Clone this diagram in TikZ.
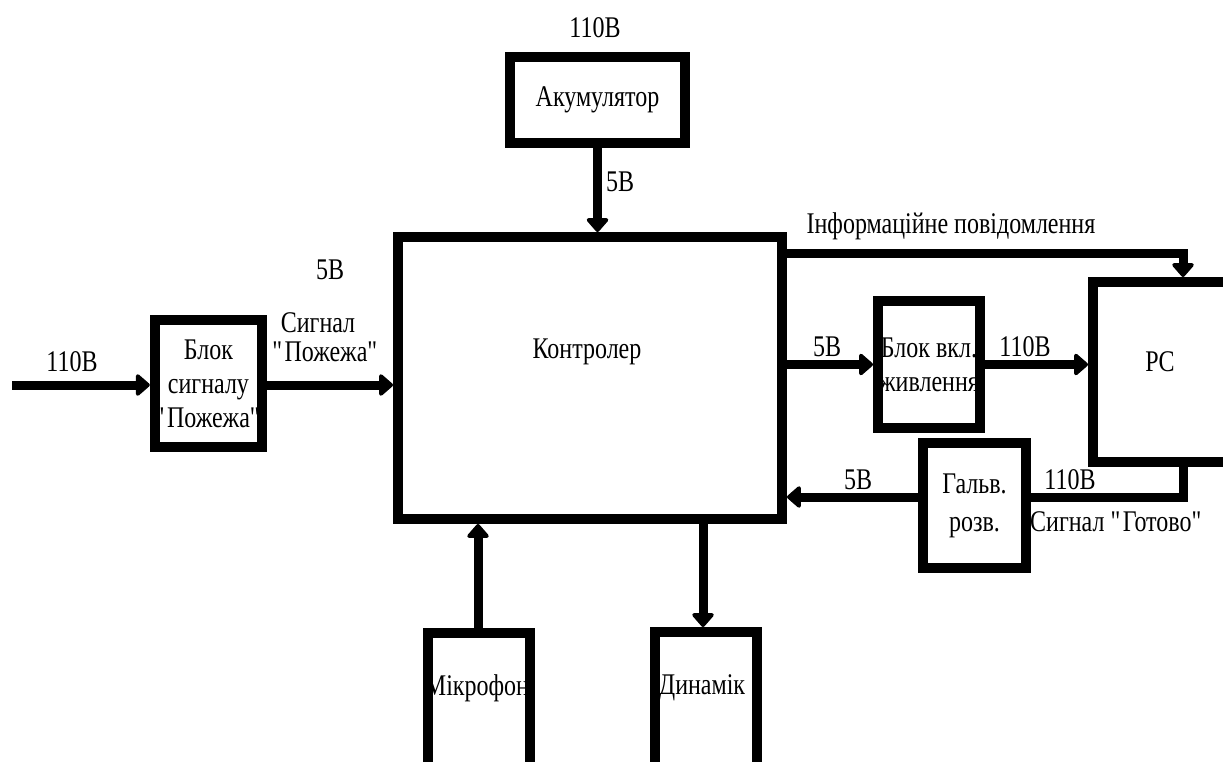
\documentclass[tikz,border=0pt]{standalone}
\usepackage{fontspec}
\setmainfont{Liberation Serif}[FakeStretch=0.8]
\usetikzlibrary{arrows.meta}
\newcommand{\qq}{\textquotedbl}
\tikzset{
  blk/.style={draw, line width=10pt, rectangle, inner sep=0pt, align=center},
  arr/.style={line width=9pt, -{Triangle[length=15pt,width=25pt,round]}},
  ln/.style={line width=9pt},
  lbl/.style={inner sep=0pt, align=center},
}
\begin{document}
\begin{tikzpicture}[x=1pt,y=-1pt,font=\fontsize{30}{34}\selectfont]
\useasboundingbox (0,0) rectangle (1223,762);
\clip (0,0) rectangle (1223,762);
% boxes
\node[blk, minimum width=384pt, minimum height=282pt] (ctrl) at (590,378) {};
\node[lbl] (ctrlt) at (587,352) {Контролер};
\node[blk, minimum width=175pt, minimum height=86pt] (akk) at (597.5,100) {Акумулятор};
\node[blk, minimum width=103pt, minimum height=127pt] (bs) at (208.5,383.5) {Блок\\сигналу\\\qq Пожежа\qq};
\node[blk, minimum width=102pt, minimum height=127pt] (bv) at (929,364.5) {Блок вкл.\\живлення};
\node[blk, minimum width=147pt, minimum height=180pt] (pc) at (1166.5,372) {};
\node[lbl] (pct) at (1160,362) {PC};
\node[blk, minimum width=103pt, minimum height=125pt] (galv) at (974.5,505.5) {Гальв.\\[4pt]розв.};
\node[blk, minimum width=102pt, minimum height=167pt] (mic) at (479,716.5) {};
\node[lbl] (mict) at (477,688) {Мікрофон};
\node[blk, minimum width=102pt, minimum height=168pt] (dyn) at (706,716) {};
\node[lbl] (dynt) at (702,688) {Динамік};
% coordinates
\coordinate (inL) at (12,385);
\coordinate (infoR) at (1183,253);
\coordinate (gotR) at (1183,497);
% connectors
\draw[arr] (inL) -- (inL -| bs.west);
\draw[arr] (bs.east |- inL) -- (inL -| ctrl.west);
\draw[arr] (akk.south) -- (akk.south |- ctrl.north);
\draw[arr] (ctrl.east |- infoR) -- (infoR) -- (infoR |- pc.north);
\draw[arr] (ctrl.east |- bv.west) -- (bv.west);
\draw[arr] (bv.east) -- (bv.east -| pc.west);
\draw[ln] (gotR |- pc.south) -- (gotR) -- (gotR -| galv.east);
\draw[arr] (gotR -| galv.west) -- (gotR -| ctrl.east);
\draw[arr] (mic.north -| 478,0) -- (ctrl.south -| 478,0);
\draw[arr] (ctrl.south -| 703,0) -- (dyn.north -| 703,0);
% labels
\node[lbl] (l1) at (72,362) {110В};
\node[lbl] (l2) at (330,270) {5В};
\node[lbl] (l3) at (318,323) {Сигнал};
\node[lbl] (l4) at (326,352) {\qq Пожежа\qq};
\node[lbl] (l5) at (595,28) {110В};
\node[lbl] (l6) at (620,182) {5В};
\node[lbl] (l7) at (951,226) {Інформаційне повідомлення};
\node[lbl] (l8) at (827,347) {5В};
\node[lbl] (l9) at (1025,347) {110В};
\node[lbl] (l10) at (858,480) {5В};
\node[lbl] (l11) at (1070,480) {110В};
\node[lbl] (l12) at (1117,522) {Сигнал \qq Готово\qq};
\end{tikzpicture}
\end{document}
